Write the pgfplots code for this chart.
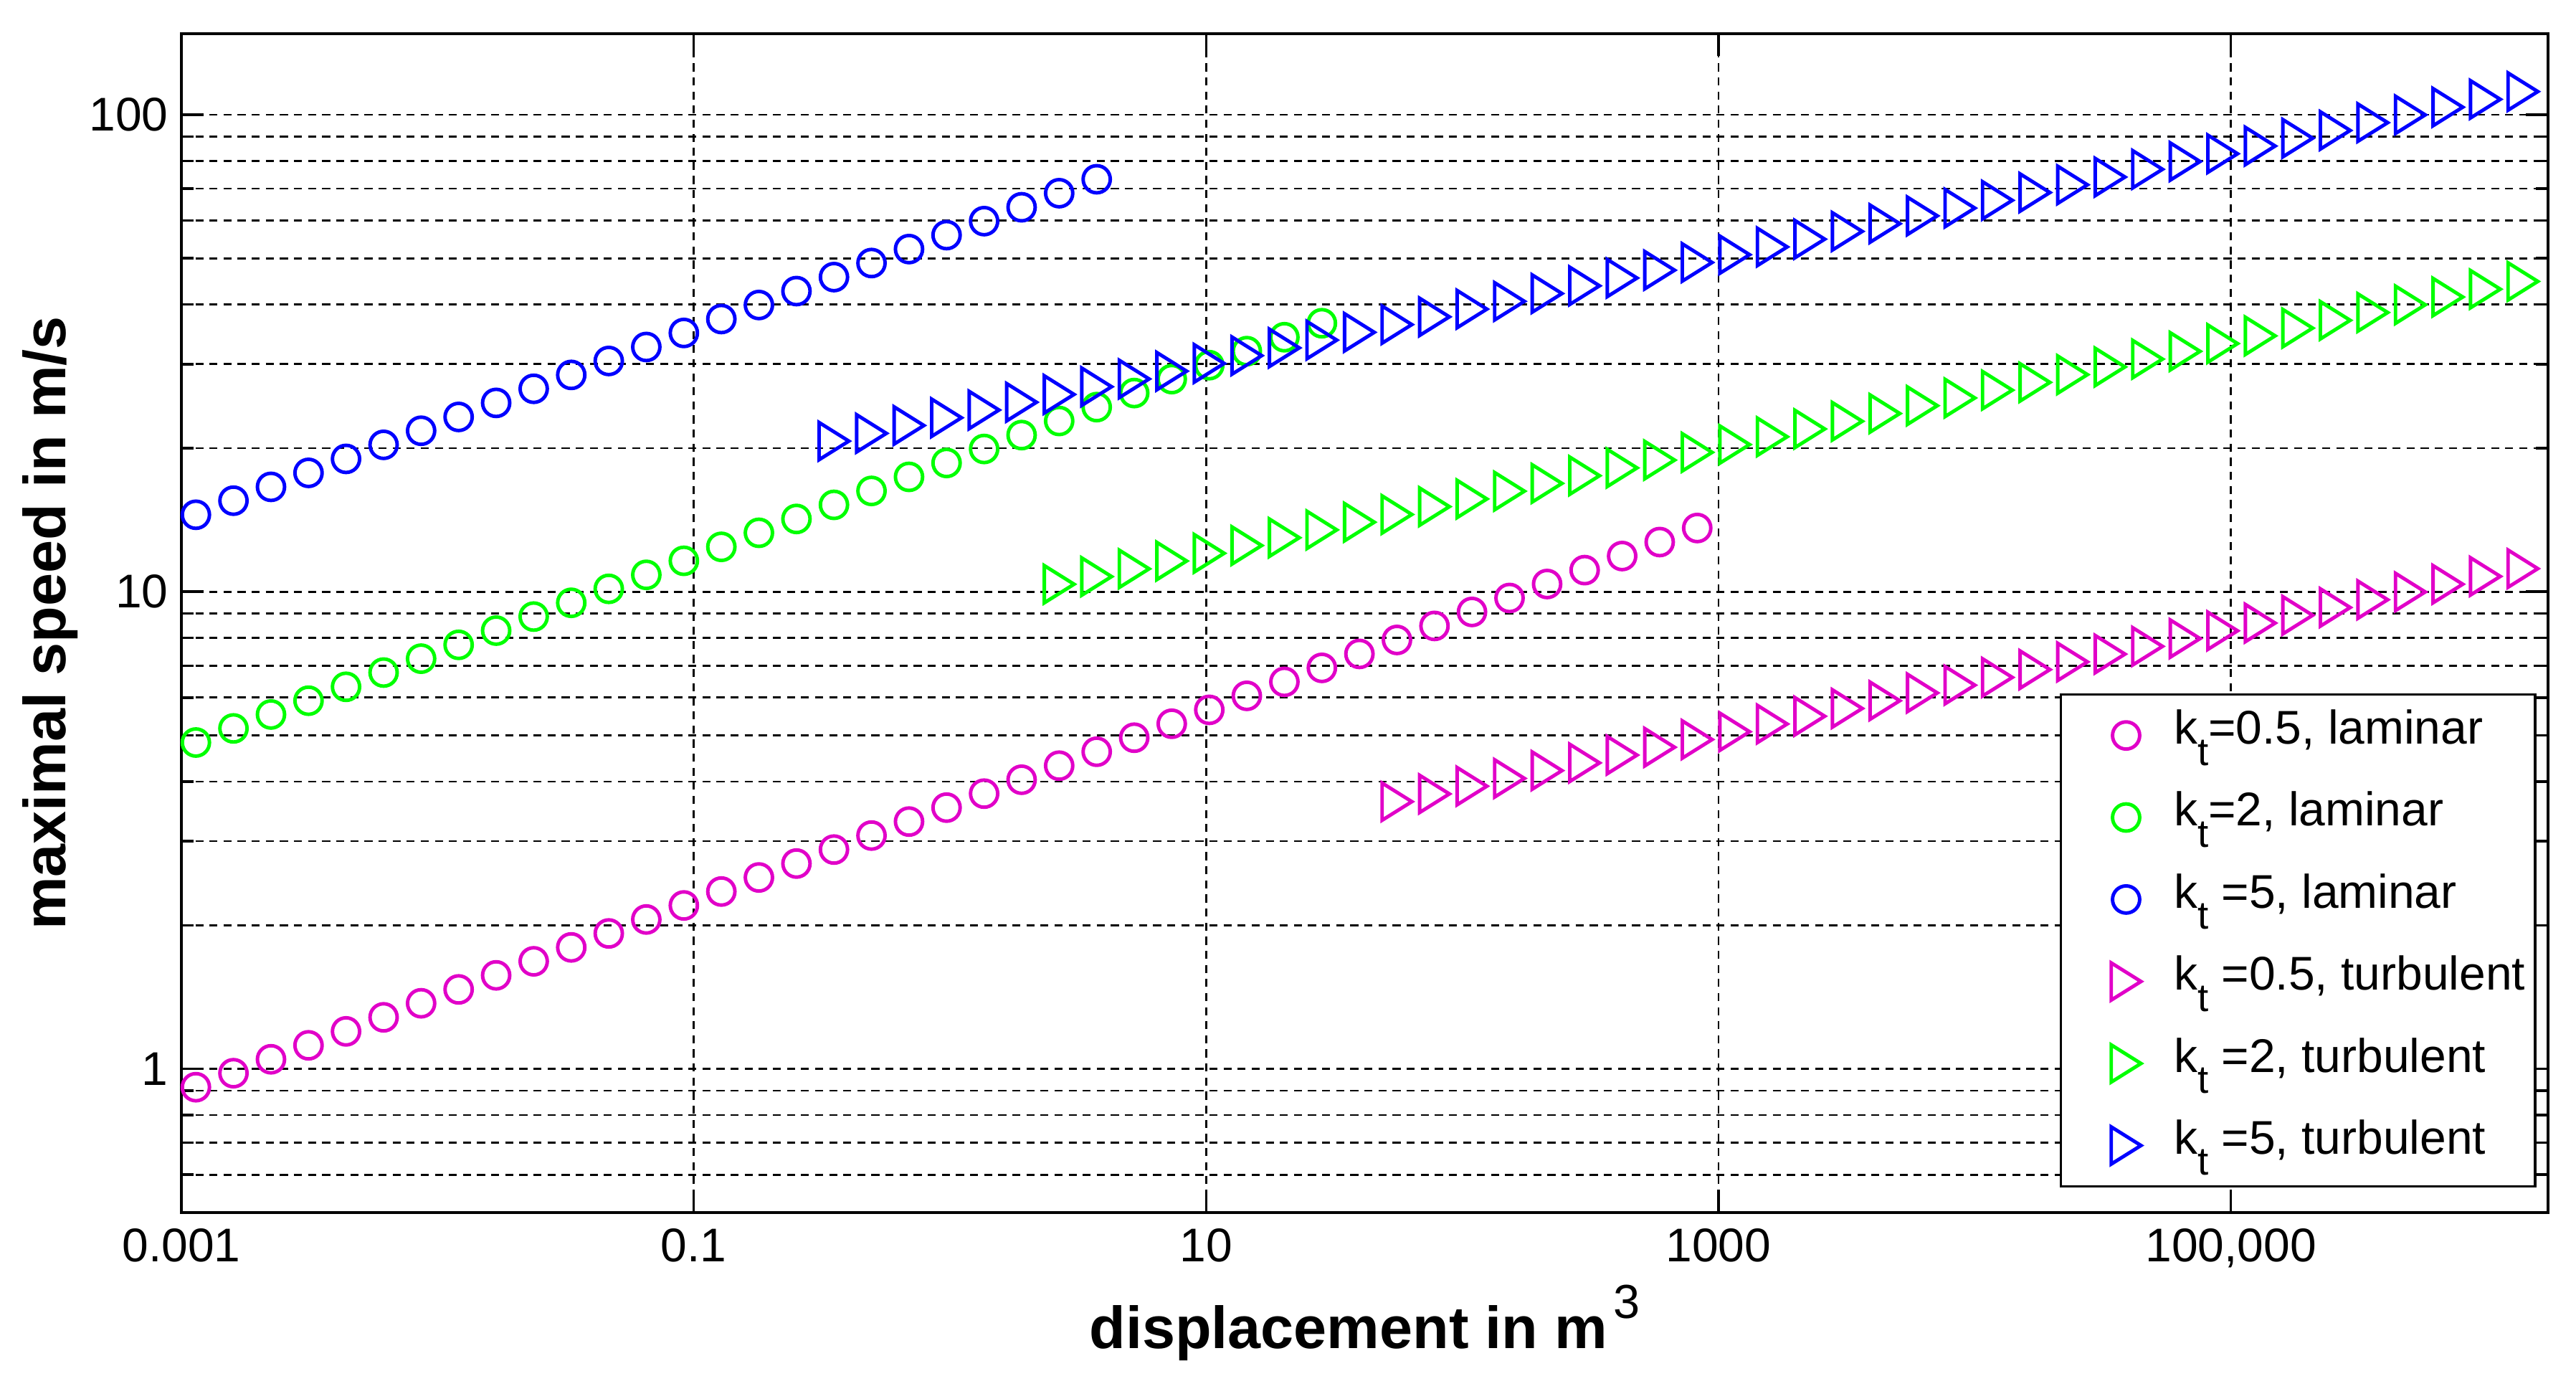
\documentclass[border=0pt]{standalone}
\usepackage{fontspec}
\setmainfont{Liberation Sans}
\usepackage{pgfplots}
\pgfplotsset{compat=1.18}
\definecolor{mMag}{RGB}{225,0,200}
\definecolor{mGrn}{RGB}{0,255,0}
\definecolor{mBlu}{RGB}{0,0,255}
% matlab-like '>' marker
\pgfdeclareplotmark{rtri}{%
  \pgfpathmoveto{\pgfqpoint{0.8\pgfplotmarksize}{0pt}}%
  \pgfpathlineto{\pgfqpoint{-0.8\pgfplotmarksize}{\pgfplotmarksize}}%
  \pgfpathlineto{\pgfqpoint{-0.8\pgfplotmarksize}{-\pgfplotmarksize}}%
  \pgfpathclose
  \pgfusepathqstroke}
\newcommand{\kt}{k\raisebox{-4.2pt}{\fontsize{7.8}{9}\selectfont t}}
\tikzset{
  lam/.style={only marks,mark=o,mark size=2.7pt,line width=0.7pt},
  tur/.style={only marks,mark=rtri,mark size=3.7pt,line width=0.7pt},
}
\begin{document}
\begin{tikzpicture}
\begin{axis}[
  name=ax,
  scale only axis, width=16.537cm, height=8.235cm,
  xmode=log, ymode=log,
  xmin=0.001, xmax=1.73e6, ymin=0.5, ymax=147.9,
  xtick={0.001,0.1,10,1000,100000},
  xticklabels={0.001,0.1,10,1000,{100,000}},
  ytick={1,10,100}, yticklabels={1,10,100},
  minor ytick={0.6,0.7,0.8,0.9,2,3,4,5,6,7,8,9,20,30,40,50,60,70,80,90},
  xminorticks=false,
  xmajorgrids, ymajorgrids, yminorgrids,
  major grid style={black,line width=0.4pt,dash pattern=on 1.6pt off 1.2pt},
  minor grid style={black,line width=0.4pt,dash pattern=on 1.6pt off 1.2pt},
  tick align=inside, major tick length=4.5pt, minor tick length=2.5pt,
  every tick/.style={black,line width=0.5pt},
  axis line style={line width=0.6pt},
  /pgf/number format/assume math mode=true,
  tick label style={font=\fontsize{9.4}{11}\selectfont},
  xticklabel style={anchor=north,inner sep=0pt,yshift=-3.1pt},
  yticklabel style={anchor=east,inner sep=0pt,xshift=-2.4pt},
  every axis x label/.style={at={([yshift=-27pt]axis description cs:0.5,0)},anchor=base},
  every axis y label/.style={at={([xshift=-23pt]axis description cs:0,0.5)},rotate=90,anchor=base},
  label style={font=\fontsize{11.8}{13}\selectfont\bfseries},
  xlabel={displacement in m\hspace{1.2pt}\raisebox{6pt}{\fontsize{9.5}{11}\selectfont\mdseries 3}},
  ylabel={maximal speed in m/s},
  legend cell align=left,
  legend style={at={(rel axis cs:1,0)},anchor=south east,xshift=-2.3pt,yshift=4.9pt,
    draw=black,line width=0.5pt,fill=white,inner xsep=2pt,inner ysep=0pt,
    font=\fontsize{9.4}{11}\selectfont,
    nodes={inner sep=0pt,text height=6pt,text depth=2.6pt},
    row sep=0pt,column sep=0pt},
  legend image code/.code={\path[draw=none,fill=none] (-11pt,-8.15pt) rectangle (9.5pt,8.15pt);
    \draw plot coordinates {(0pt,0pt)};},
]
\addplot[lam,mMag] coordinates {(0.001140,0.915)(0.001598,0.979)(0.002239,1.047)(0.003137,1.120)(0.004395,1.198)(0.006160,1.282)(0.008630,1.372)(0.01209,1.467)(0.01694,1.570)(0.02374,1.680)(0.03327,1.797)(0.04661,1.922)(0.06531,2.056)(0.09152,2.200)(0.1282,2.353)(0.1797,2.518)(0.2518,2.693)(0.3528,2.881)(0.4943,3.083)(0.6925,3.298)(0.9705,3.528)(1.360,3.774)(1.905,4.036)(2.670,4.319)(3.741,4.620)(5.242,4.943)(7.345,5.288)(10.29,5.655)(14.42,6.051)(20.21,6.473)(28.31,6.925)(39.68,7.408)(55.59,7.925)(77.89,8.479)(109.1,9.071)(152.9,9.703)(214.3,10.38)(300.3,11.10)(420.7,11.88)(589.6,12.71)(826.0,13.60)};
\addlegendentry{\kt=0.5, laminar}
\addplot[lam,mGrn] coordinates {(0.001140,4.83)(0.001598,5.17)(0.002239,5.53)(0.003137,5.91)(0.004395,6.32)(0.006160,6.77)(0.008630,7.24)(0.01209,7.74)(0.01694,8.29)(0.02374,8.87)(0.03327,9.48)(0.04661,10.14)(0.06531,10.85)(0.09152,11.61)(0.1282,12.42)(0.1797,13.29)(0.2518,14.21)(0.3528,15.21)(0.4943,16.27)(0.6925,17.41)(0.9705,18.62)(1.360,19.92)(1.905,21.30)(2.670,22.80)(3.741,24.38)(5.242,26.09)(7.345,27.91)(10.29,29.85)(14.42,31.94)(20.21,34.16)(28.31,36.55)};
\addlegendentry{\kt=2, laminar}
\addplot[lam,mBlu] coordinates {(0.001140,14.50)(0.001598,15.52)(0.002239,16.59)(0.003137,17.75)(0.004395,18.99)(0.006160,20.32)(0.008630,21.75)(0.01209,23.25)(0.01694,24.88)(0.02374,26.63)(0.03327,28.48)(0.04661,30.46)(0.06531,32.59)(0.09152,34.87)(0.1282,37.30)(0.1797,39.91)(0.2518,42.68)(0.3528,45.66)(0.4943,48.87)(0.6925,52.27)(0.9705,55.92)(1.360,59.82)(1.905,63.97)(2.670,68.46)(3.741,73.23)};
\addlegendentry{\kt{} =5, laminar}
\addplot[tur,mMag] coordinates {(55.59,3.631)(77.89,3.770)(109.1,3.913)(152.9,4.062)(214.3,4.218)(300.3,4.378)(420.7,4.546)(589.6,4.721)(826.0,4.900)(1157,5.088)(1622,5.282)(2273,5.484)(3184,5.693)(4462,5.910)(6252,6.137)(8760,6.371)(12270,6.614)(17200,6.868)(24100,7.129)(33770,7.401)(47320,7.684)(66300,7.978)(92900,8.282)(130200,8.597)(182400,8.926)(255600,9.268)(358100,9.623)(501800,9.991)(703100,10.37)(985100,10.77)(1380000,11.18)};
\addlegendentry{\kt{} =0.5, turbulent}
\addplot[tur,mGrn] coordinates {(2.670,10.37)(3.741,10.76)(5.242,11.17)(7.345,11.60)(10.29,12.04)(14.42,12.50)(20.21,12.98)(28.31,13.48)(39.68,13.99)(55.59,14.52)(77.89,15.08)(109.1,15.65)(152.9,16.25)(214.3,16.87)(300.3,17.51)(420.7,18.18)(589.6,18.88)(826.0,19.60)(1157,20.35)(1622,21.13)(2273,21.94)(3184,22.77)(4462,23.64)(6252,24.55)(8760,25.48)(12270,26.46)(17200,27.47)(24100,28.52)(33770,29.60)(47320,30.74)(66300,31.91)(92900,33.13)(130200,34.39)(182400,35.70)(255600,37.07)(358100,38.49)(501800,39.96)(703100,41.48)(985100,43.08)(1380000,44.72)};
\addlegendentry{\kt{} =2, turbulent}
\addplot[tur,mBlu] coordinates {(0.3528,20.69)(0.4943,21.48)(0.6925,22.31)(0.9705,23.16)(1.360,24.04)(1.905,24.96)(2.670,25.92)(3.741,26.90)(5.242,27.93)(7.345,29.00)(10.29,30.10)(14.42,31.26)(20.21,32.45)(28.31,33.69)(39.68,34.98)(55.59,36.31)(77.89,37.70)(109.1,39.13)(152.9,40.62)(214.3,42.18)(300.3,43.78)(420.7,45.46)(589.6,47.21)(826.0,49.00)(1157,50.88)(1622,52.82)(2273,54.84)(3184,56.93)(4462,59.10)(6252,61.37)(8760,63.71)(12270,66.14)(17200,68.68)(24100,71.29)(33770,74.01)(47320,76.84)(66300,79.78)(92900,82.82)(130200,85.97)(182400,89.26)(255600,92.68)(358100,96.23)(501800,99.91)(703100,103.7)(985100,107.7)(1380000,111.8)};
\addlegendentry{\kt{} =5, turbulent}
\end{axis}
\path (ax.south west) ++(-1.267cm,-1.302cm);
\path (ax.north east) ++(0.195cm,0.235cm);
\end{tikzpicture}
\end{document}
